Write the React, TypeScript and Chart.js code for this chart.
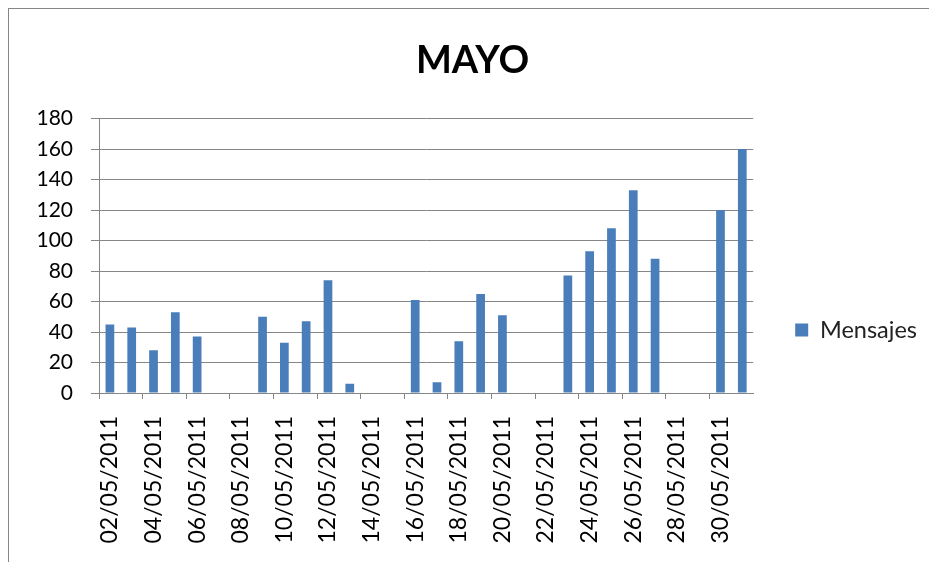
import React, { useEffect, useRef } from "react";
import { Chart, registerables } from "chart.js";

Chart.register(...registerables);

const titleText = "MAYO";
const seriesLabel = "Mensajes";
const dates = [
  "02/05/2011", "03/05/2011", "04/05/2011", "05/05/2011", "06/05/2011",
  "07/05/2011", "08/05/2011", "09/05/2011", "10/05/2011", "11/05/2011",
  "12/05/2011", "13/05/2011", "14/05/2011", "15/05/2011", "16/05/2011",
  "17/05/2011", "18/05/2011", "19/05/2011", "20/05/2011", "21/05/2011",
  "22/05/2011", "23/05/2011", "24/05/2011", "25/05/2011", "26/05/2011",
  "27/05/2011", "28/05/2011", "29/05/2011", "30/05/2011", "31/05/2011",
];
const mensajes: (number | null)[] = [
  45, 43, 28, 53, 37,
  null, null, 50, 33, 47,
  74, 6, null, null, 61,
  7, 34, 65, 51, null,
  null, 77, 93, 108, 133,
  88, null, null, 120, 160,
];
const yMin = 0;
const yMax = 180;
const yStep = 20;

const BAR = "#4A7EBB";
const GRID = "#868686";
const FONT = "Lato, 'Open Sans', sans-serif";

export default function App() {
  const ref = useRef<HTMLCanvasElement | null>(null);

  useEffect(() => {
    if (!ref.current) return;
    const chart = new Chart(ref.current, {
      type: "bar",
      data: {
        labels: dates,
        datasets: [
          {
            label: seriesLabel,
            data: mensajes,
            backgroundColor: BAR,
            borderColor: BAR,
            borderWidth: 0,
            categoryPercentage: 1,
            barPercentage: 0.4,
          },
        ],
      },
      options: {
        responsive: false,
        animation: false,
        devicePixelRatio: 1,
        layout: { padding: { left: 9, top: 0, right: 9, bottom: 0 } },
        plugins: {
          title: {
            display: true,
            text: titleText,
            color: "#000",
            font: { family: FONT, size: 38, weight: "bold" },
            padding: { top: 29, bottom: 35 },
          },
          legend: {
            display: true,
            position: "right",
            align: "center",
            title: {
              display: true,
              text: "",
              font: { family: FONT, size: 20 },
              padding: { top: 65, bottom: 0 },
            },
            labels: {
              color: "#222",
              font: { family: FONT, size: 23.5 },
              boxWidth: 13,
              boxHeight: 13,
              padding: 42,
            },
          },
          tooltip: { enabled: false },
        },
        scales: {
          x: {
            type: "category",
            offset: true,
            afterFit: (s: any) => {
              s.height = 169;
            },
            grid: {
              display: true,
              drawOnChartArea: false,
              drawTicks: true,
              tickLength: 6,
              offset: true,
              color: (ctx: any) => (ctx.index % 2 === 0 ? GRID : "rgba(0,0,0,0)"),
            },
            border: { display: true, color: GRID, width: 1 },
            ticks: {
              autoSkip: false,
              minRotation: 90,
              maxRotation: 90,
              padding: 17,
              color: "#000",
              font: { family: FONT, size: 23 },
              callback: (_v: any, i: number) => (i % 2 === 0 ? dates[i] : ""),
            },
          },
          y: {
            min: yMin,
            max: yMax,
            afterFit: (s: any) => {
              s.width = 81;
            },
            grid: {
              display: true,
              color: GRID,
              lineWidth: 1,
              drawTicks: true,
              tickLength: 8,
            },
            border: { display: true, color: GRID, width: 1 },
            ticks: {
              stepSize: yStep,
              padding: 18,
              color: "#000",
              font: { family: FONT, size: 21 },
            },
          },
        },
      },
    });
    return () => chart.destroy();
  }, []);

  return (
    <div
      style={{
        position: "fixed",
        left: 8,
        top: 8,
        width: 940,
        height: 570,
        borderLeft: `1px solid ${GRID}`,
        borderTop: `1px solid ${GRID}`,
        overflow: "hidden",
        background: "#fff",
      }}
    >
      <canvas ref={ref} width={927} height={553} style={{ display: "block" }} />
    </div>
  );
}
